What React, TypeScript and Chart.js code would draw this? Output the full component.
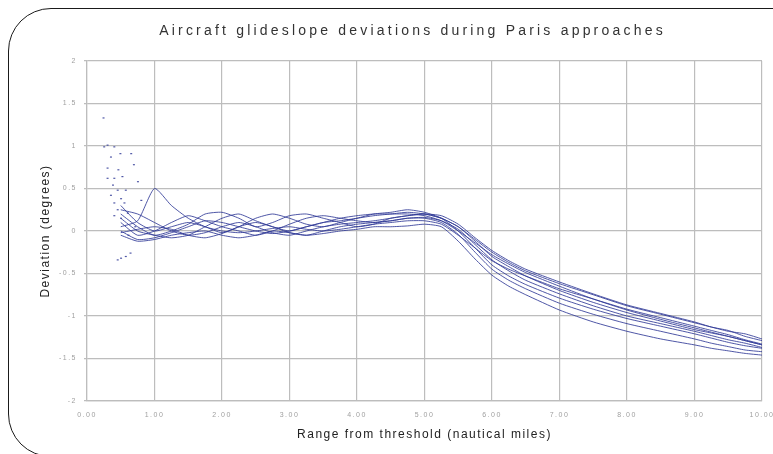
import React, { useEffect, useRef } from "react";
import { Chart, registerables } from "chart.js";

Chart.register(...registerables);

const TITLE = "Aircraft glideslope deviations during Paris approaches";
const X_TITLE = "Range from threshold (nautical miles)";
const Y_TITLE = "Deviation (degrees)";

const xTickLabels = ["0.00", "1.00", "2.00", "3.00", "4.00", "5.00", "6.00", "7.00", "8.00", "9.00", "10.00"];
const yTickValues = [-2, -1.5, -1, -0.5, 0, 0.5, 1, 1.5, 2];
const yTickLabels = ["-2", "-1.5", "-1", "-0.5", "0", "0.5", "1", "1.5", "2"];

// range from threshold (nm) sample points shared by all approach tracks
const rangeNm = [0.5, 0.75, 1.0, 1.25, 1.5, 1.75, 2.0, 2.25, 2.5, 2.75, 3.0, 3.25, 3.5, 3.75, 4.0, 4.25, 4.5, 4.75, 5.0, 5.25, 5.5, 5.75, 6.0, 6.25, 6.5, 7.0, 7.5, 8.0, 8.5, 9.0, 9.25, 9.5, 9.75, 10.0];

const approach1 = [0.05, 0.12, 0.5, 0.3, 0.15, 0.05, 0.0, -0.02, 0.0, 0.03, 0.05, 0.02, 0.0, 0.02, 0.05, 0.08, 0.1, 0.12, 0.12, 0.08, -0.05, -0.2, -0.35, -0.45, -0.53, -0.68, -0.8, -0.92, -1.02, -1.12, -1.17, -1.22, -1.28, -1.33];
const approach2 = [0.15, 0.0, -0.05, -0.08, -0.05, 0.05, 0.15, 0.2, 0.12, 0.05, 0.0, 0.05, 0.1, 0.12, 0.15, 0.18, 0.2, 0.22, 0.2, 0.15, 0.05, -0.1, -0.25, -0.37, -0.47, -0.62, -0.75, -0.88, -0.98, -1.08, -1.13, -1.18, -1.21, -1.27];
const approach3 = [0.3, 0.1, 0.0, 0.05, 0.1, 0.05, -0.02, 0.05, 0.15, 0.2, 0.15, 0.08, 0.05, 0.1, 0.15, 0.2, 0.22, 0.25, 0.22, 0.15, 0.0, -0.2, -0.4, -0.53, -0.63, -0.79, -0.92, -1.03, -1.12, -1.21, -1.26, -1.31, -1.35, -1.38];
const approach4 = [0.0, -0.1, -0.08, -0.02, 0.05, 0.12, 0.1, 0.05, 0.0, -0.03, 0.0, 0.05, 0.1, 0.15, 0.18, 0.2, 0.2, 0.2, 0.18, 0.12, 0.0, -0.14, -0.28, -0.39, -0.49, -0.65, -0.8, -0.93, -1.04, -1.14, -1.19, -1.24, -1.29, -1.34];
const approach5 = [0.1, -0.05, 0.0, 0.1, 0.18, 0.12, 0.05, 0.0, -0.05, 0.0, 0.08, 0.15, 0.18, 0.15, 0.12, 0.1, 0.12, 0.15, 0.15, 0.1, -0.04, -0.25, -0.45, -0.58, -0.68, -0.85, -0.98, -1.09, -1.18, -1.27, -1.32, -1.36, -1.4, -1.42];
const approach6 = [-0.05, -0.12, -0.1, -0.05, -0.02, 0.0, -0.05, -0.08, -0.05, 0.0, -0.02, -0.05, -0.03, 0.0, 0.02, 0.05, 0.05, 0.06, 0.08, 0.05, -0.12, -0.33, -0.52, -0.65, -0.75, -0.93, -1.07, -1.18, -1.27, -1.34, -1.38, -1.41, -1.44, -1.46];
const approach7 = [0.2, 0.05, -0.05, 0.0, 0.08, 0.2, 0.22, 0.15, 0.05, 0.1, 0.18, 0.2, 0.15, 0.1, 0.05, 0.08, 0.15, 0.18, 0.2, 0.18, 0.08, -0.08, -0.23, -0.35, -0.45, -0.6, -0.74, -0.87, -0.97, -1.07, -1.13, -1.17, -1.24, -1.29];
const approach8 = [-0.02, 0.02, 0.05, 0.02, -0.05, -0.08, -0.03, 0.05, 0.1, 0.05, -0.02, -0.05, 0.0, 0.05, 0.08, 0.1, 0.12, 0.15, 0.16, 0.12, 0.02, -0.16, -0.34, -0.47, -0.58, -0.74, -0.88, -1.0, -1.09, -1.18, -1.23, -1.28, -1.32, -1.37];
const approach9 = [0.25, 0.2, 0.1, 0.0, -0.05, -0.02, 0.05, 0.1, 0.05, -0.02, -0.05, 0.0, 0.05, 0.08, 0.1, 0.12, 0.15, 0.18, 0.2, 0.15, 0.05, -0.12, -0.3, -0.42, -0.53, -0.7, -0.84, -0.96, -1.06, -1.16, -1.2, -1.24, -1.29, -1.34];

const approaches = [approach1, approach2, approach3, approach4, approach5, approach6, approach7, approach8, approach9];

// scattered samples close to the threshold
const nearRange = [0.23, 0.24, 0.29, 0.39, 0.34, 0.48, 0.64, 0.68, 0.29, 0.45, 0.51, 0.29, 0.39, 0.74, 0.37, 0.44, 0.56, 0.34, 0.49, 0.79, 0.39, 0.54, 0.44, 0.59, 0.49, 0.39, 0.44, 0.49, 0.56, 0.63, 0.6, 0.7];
const nearDeviation = [1.33, 0.99, 1.01, 0.99, 0.87, 0.91, 0.91, 0.78, 0.74, 0.72, 0.64, 0.62, 0.62, 0.58, 0.54, 0.48, 0.48, 0.42, 0.38, 0.36, 0.33, 0.33, 0.25, 0.21, 0.15, 0.18, -0.34, -0.32, -0.3, -0.26, -0.05, 0.05];

const LINE_COLOR = "rgba(48, 58, 150, 0.85)";
const FONT_FAMILY = "'Liberation Sans', Arial, sans-serif";

const spacedTextPlugin = {
  id: "spacedText",
  beforeDraw(chart: any) {
    (chart.ctx as any).letterSpacing = "1.5px";
  },
  afterDraw(chart: any) {
    const ctx = chart.ctx;
    const area = chart.chartArea;
    ctx.save();
    (ctx as any).letterSpacing = "3.2px";
    ctx.font = `14px ${FONT_FAMILY}`;
    ctx.fillStyle = "#333333";
    ctx.textAlign = "center";
    ctx.textBaseline = "middle";
    ctx.fillText(TITLE, (area.left + area.right) / 2 - 12, 31);
    ctx.restore();
  },
};

export default function App() {
  const canvasRef = useRef<HTMLCanvasElement | null>(null);

  useEffect(() => {
    if (!canvasRef.current) return;
    const lineSets = approaches.map((ys, i) => ({
      type: "line" as const,
      label: `Approach ${i + 1}`,
      data: rangeNm.map((x, j) => ({ x, y: ys[j] })),
      borderColor: LINE_COLOR,
      borderWidth: 1,
      pointRadius: 0,
      tension: 0.2,
      fill: false,
    }));
    const scatterSet = {
      type: "scatter" as const,
      label: "Near threshold",
      data: nearRange.map((x, j) => ({ x, y: nearDeviation[j] })),
      borderColor: LINE_COLOR,
      backgroundColor: LINE_COLOR,
      pointStyle: "dash",
      pointRadius: 2,
      borderWidth: 1.2,
      showLine: false,
    };

    const chart = new Chart(canvasRef.current, {
      type: "line",
      data: { datasets: [...lineSets, scatterSet] as any },
      options: {
        animation: false,
        responsive: false,
        layout: { padding: { left: 0, top: 61, right: 11, bottom: 0 } },
        plugins: {
          legend: { display: false },
          title: { display: false },
          tooltip: { enabled: false },
        },
        scales: {
          x: {
            type: "linear",
            min: 0,
            max: 10,
            afterFit: (scale: any) => {
              scale.height = 53;
              scale.paddingLeft = 0;
              scale.paddingRight = 0;
            },
            afterBuildTicks: (scale: any) => {
              scale.ticks = xTickLabels.map((_, i) => ({ value: i }));
            },
            ticks: {
              font: { size: 7, family: FONT_FAMILY },
              color: "#a0a0a0",
              padding: 10,
              maxRotation: 0,
              autoSkip: false,
              callback: (v: any) => xTickLabels[Math.round(Number(v))] ?? "",
            },
            grid: { color: "#bdbdbd", lineWidth: 1.2, drawTicks: false },
            border: { color: "#bdbdbd", width: 1.2 },
            title: {
              display: true,
              text: X_TITLE,
              color: "#222222",
              font: { size: 12, family: FONT_FAMILY },
              padding: { top: 0, bottom: 12 },
            },
          },
          y: {
            type: "linear",
            min: -2,
            max: 2,
            afterFit: (scale: any) => {
              scale.width = 87;
              scale.paddingTop = 0;
              scale.paddingBottom = 0;
            },
            afterBuildTicks: (scale: any) => {
              scale.ticks = yTickValues.map((v) => ({ value: v }));
            },
            ticks: {
              font: { size: 7, family: FONT_FAMILY },
              color: "#a0a0a0",
              padding: 7,
              autoSkip: false,
              callback: (v: any) => {
                const i = yTickValues.indexOf(Number(v));
                return i >= 0 ? yTickLabels[i] : "";
              },
            },
            grid: { color: "#bdbdbd", lineWidth: 1.2, tickLength: 3 },
            border: { color: "#bdbdbd", width: 1.2 },
            title: {
              display: true,
              text: Y_TITLE,
              color: "#222222",
              font: { size: 12, family: FONT_FAMILY },
              padding: { top: 38, bottom: 0 },
            },
          },
        },
      },
      plugins: [spacedTextPlugin],
    });
    return () => chart.destroy();
  }, []);

  return (
    <div
      style={{
        position: "fixed",
        left: 0,
        top: 0,
        width: 773,
        height: 454,
        overflow: "hidden",
        background: "#ffffff",
      }}
    >
      <div
        style={{
          position: "absolute",
          left: 8,
          top: 8,
          width: 840,
          height: 449,
          border: "1.5px solid #1a1a1a",
          borderRadius: 43,
          boxSizing: "border-box",
        }}
      />
      <canvas
        ref={canvasRef}
        width={773}
        height={454}
        style={{ position: "absolute", left: 0, top: 0, display: "block" }}
      />
    </div>
  );
}
